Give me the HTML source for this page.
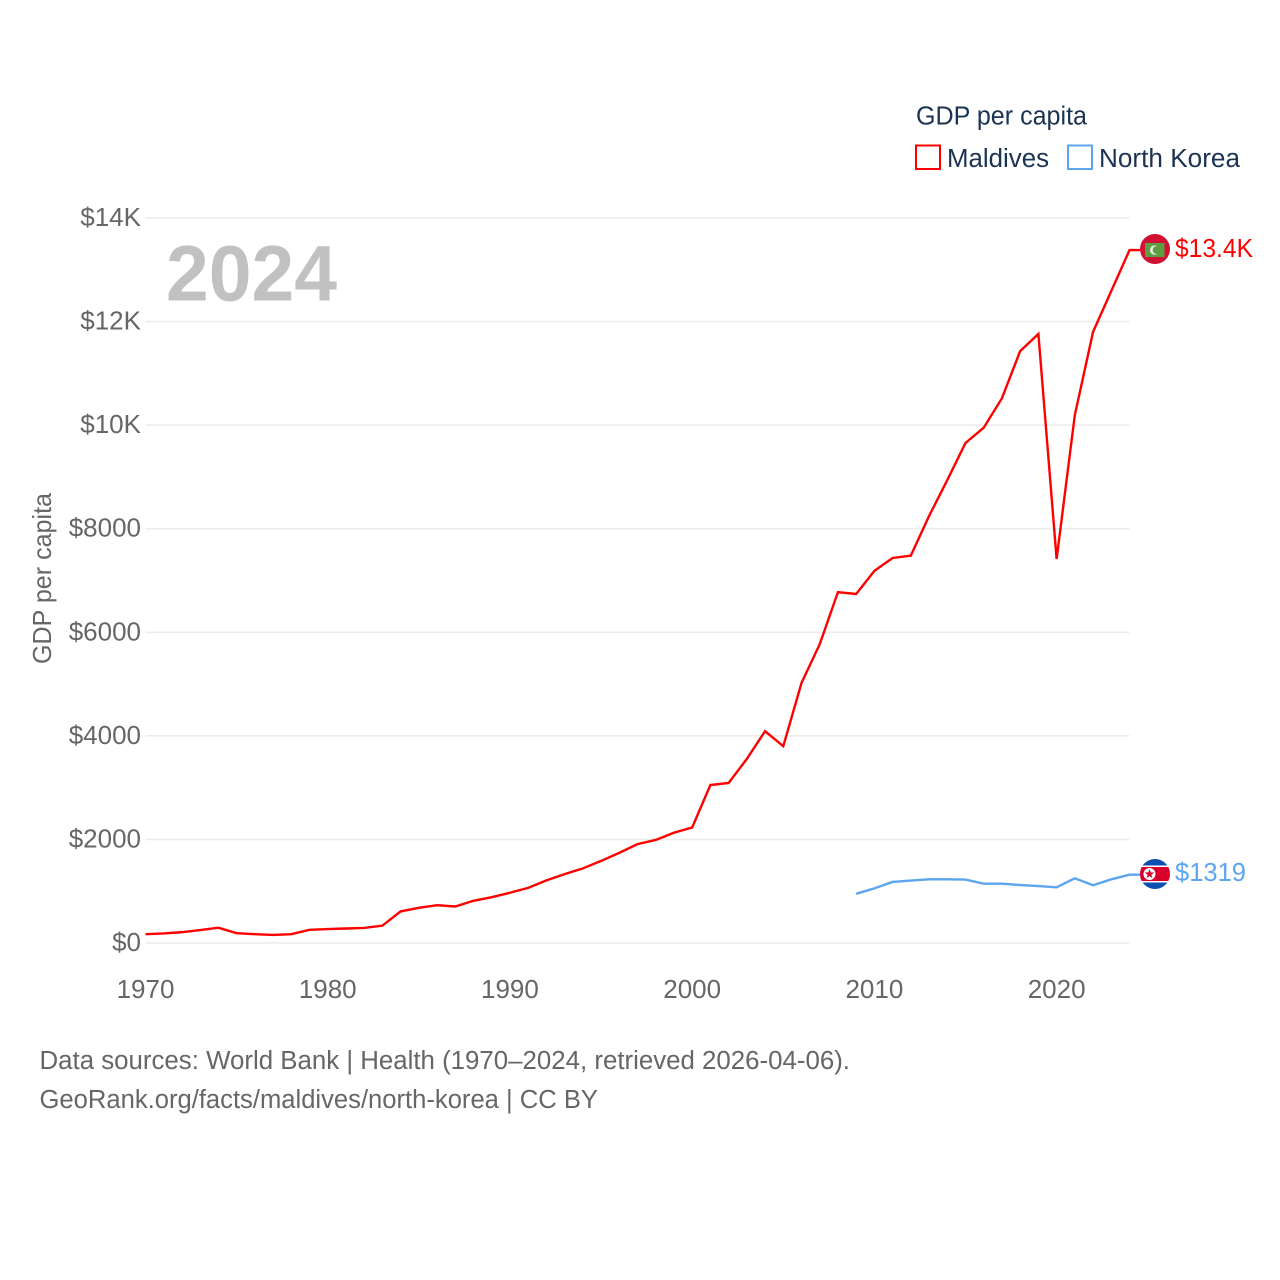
<!DOCTYPE html>
<html lang="en">
<head>
<meta charset="utf-8">
<title>GDP per capita: Maldives and North Korea</title>
<style>
html,body{margin:0;padding:0;background:#fff;}
#chart{display:block;width:1280px;height:1280px;font-family:"Liberation Sans",sans-serif;}
.tick{font-size:26px;fill:#666;}
.legend{font-size:25.5px;fill:#1b3353;}
.src{font-size:25.5px;fill:#666;}
</style>
</head>
<body>
<svg id="chart" xmlns="http://www.w3.org/2000/svg" width="1280" height="1280" viewBox="0 0 1280 1280">
  <rect width="1280" height="1280" fill="#fff"/>
  <g id="grid"></g>
  <g id="yticks"></g>
  <g id="xticks"></g>

  <text x="166" y="300.5" font-size="79" font-weight="700" fill="#c1c1c1" textLength="171" lengthAdjust="spacingAndGlyphs">2024</text>
  <text class="tick" transform="translate(51,578.5) rotate(-90)" text-anchor="middle" textLength="171" lengthAdjust="spacingAndGlyphs">GDP per capita</text>

  <g id="series"></g>

  <g id="flag-maldives">
    <circle cx="1155" cy="249" r="15" fill="#d21034"/>
    <rect x="1145" y="243" width="19.5" height="14" fill="#5c9e42"/>
    <circle cx="1154.5" cy="250" r="4.6" fill="#e4ecdf"/>
    <circle cx="1156.6" cy="250" r="3.9" fill="#5c9e42"/>
  </g>
  <g id="flag-north-korea">
    <clipPath id="nk-clip"><circle cx="1155" cy="874" r="15"/></clipPath>
    <g clip-path="url(#nk-clip)">
      <rect x="1140" y="858" width="30" height="32" fill="#0b4fb0"/>
      <rect x="1140" y="865.5" width="30" height="17" fill="#fff"/>
      <rect x="1140" y="867" width="30" height="14" fill="#d8002c"/>
      <circle cx="1149.5" cy="874" r="6" fill="#fff"/>
      <polygon points="1149.5,869 1150.7,872.4 1154.3,872.5 1151.4,874.7 1152.5,878.1 1149.5,876.1 1146.5,878.1 1147.6,874.7 1144.7,872.5 1148.3,872.4" fill="#d8002c"/>
    </g>
  </g>
  <text x="1175" y="257" font-size="26" fill="#ff0000" textLength="78" lengthAdjust="spacingAndGlyphs">$13.4K</text>
  <text x="1175" y="881" font-size="26" fill="#5da5ee" textLength="71" lengthAdjust="spacingAndGlyphs">$1319</text>

  <g>
    <text class="legend" x="916" y="124.5" textLength="171" lengthAdjust="spacingAndGlyphs">GDP per capita</text>
    <rect x="916" y="145.5" width="24" height="23.5" fill="#fff" stroke="#ff0000" stroke-width="2"/>
    <text class="legend" x="947" y="167" textLength="102" lengthAdjust="spacingAndGlyphs">Maldives</text>
    <rect x="1068" y="145.5" width="24" height="23.5" fill="#fff" stroke="#5da5ee" stroke-width="2"/>
    <text class="legend" x="1099" y="167" textLength="141" lengthAdjust="spacingAndGlyphs">North Korea</text>
  </g>

  <text class="src" x="39.5" y="1069" textLength="810.5" lengthAdjust="spacingAndGlyphs">Data sources: World Bank | Health (1970–2024, retrieved 2026-04-06).</text>
  <text class="src" x="39.5" y="1108" textLength="558.5" lengthAdjust="spacingAndGlyphs">GeoRank.org/facts/maldives/north-korea | CC BY</text>
</svg>
<script>
const maldivesStartYear = 1970;
const maldivesValues = [170,185,210,250,295,190,170,155,170,255,270,280,290,335,610,680,730,705,815,885,970,1065,1210,1330,1440,1585,1740,1910,1990,2130,2230,3050,3090,3555,4090,3800,5020,5770,6775,6740,7185,7435,7480,8245,8940,9655,9950,10520,11430,11760,7415,10195,11800,12590,13380];
const northKoreaStartYear = 2009;
const northKoreaValues = [950,1055,1180,1205,1230,1230,1225,1145,1145,1120,1100,1075,1250,1115,1230,1319];
const yTickValues = [0,2000,4000,6000,8000,10000,12000,14000];
const yTickLabels = ["$0","$2000","$4000","$6000","$8000","$10K","$12K","$14K"];
const xTickValues = [1970,1980,1990,2000,2010,2020];

const NS = "http://www.w3.org/2000/svg";
const xLeft = 145.5, xRight = 1129.5, yBase = 943, yTop = 218;
const xMin = 1970, xMax = 2024, yMax = 14000;
function xScale(year){ return xLeft + (year - xMin) * (xRight - xLeft) / (xMax - xMin); }
function yScale(v){ return yBase - v * (yBase - yTop) / yMax; }

const grid = document.getElementById("grid");
const yticks = document.getElementById("yticks");
const xticks = document.getElementById("xticks");
const series = document.getElementById("series");

yTickValues.forEach(function(v, i){
  const line = document.createElementNS(NS, "line");
  
  
  line.setAttribute("x1", xLeft);
  line.setAttribute("x2", xRight);
  line.setAttribute("y1", yScale(v));
  line.setAttribute("y2", yScale(v));
  line.setAttribute("stroke", "#ececec");
  line.setAttribute("stroke-width", "1.6");
  grid.appendChild(line);

  const t = document.createElementNS(NS, "text");
  
  
  t.setAttribute("class", "tick");
  t.setAttribute("x", 141);
  t.setAttribute("y", yScale(v) + 8);
  t.setAttribute("text-anchor", "end");
  t.textContent = yTickLabels[i];
  yticks.appendChild(t);
});

xTickValues.forEach(function(year){
  const t = document.createElementNS(NS, "text");
  
  
  t.setAttribute("class", "tick");
  t.setAttribute("x", xScale(year));
  t.setAttribute("y", 998);
  t.setAttribute("text-anchor", "middle");
  t.textContent = String(year);
  xticks.appendChild(t);
});

function linePoints(startYear, values){
  return values.map(function(v, i){
    return xScale(startYear + i).toFixed(2) + "," + yScale(v).toFixed(2);
  });
}

const connectorX = 1140;

const maldivesLine = document.createElementNS(NS, "polyline");


maldivesLine.setAttribute("points", linePoints(maldivesStartYear, maldivesValues).concat([connectorX + "," + yScale(maldivesValues[maldivesValues.length - 1]).toFixed(2)]).join(" "));
maldivesLine.setAttribute("fill", "none");
maldivesLine.setAttribute("stroke", "#ff0000");
maldivesLine.setAttribute("stroke-width", "2.4");
maldivesLine.setAttribute("stroke-linejoin", "miter");
series.appendChild(maldivesLine);

const northKoreaLine = document.createElementNS(NS, "polyline");


northKoreaLine.setAttribute("points", linePoints(northKoreaStartYear, northKoreaValues).concat([connectorX + "," + yScale(northKoreaValues[northKoreaValues.length - 1]).toFixed(2)]).join(" "));
northKoreaLine.setAttribute("fill", "none");
northKoreaLine.setAttribute("stroke", "#5da5ee");
northKoreaLine.setAttribute("stroke-width", "2.4");
northKoreaLine.setAttribute("stroke-linejoin", "miter");
series.appendChild(northKoreaLine);
</script>
</body>
</html>
